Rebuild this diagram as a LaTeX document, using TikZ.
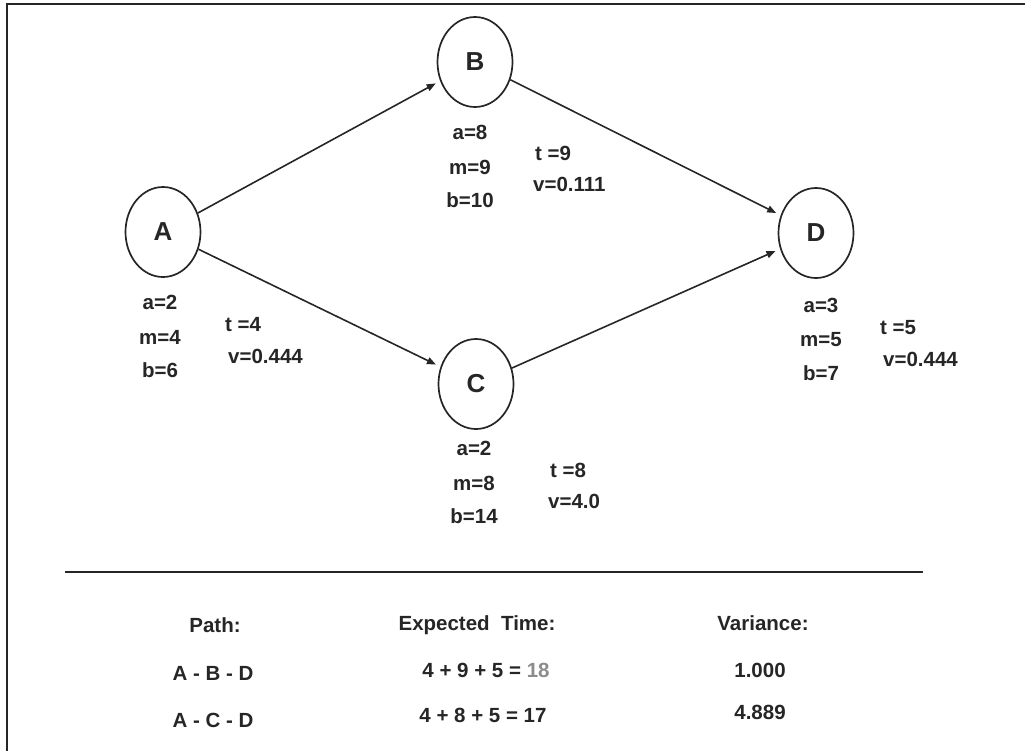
\documentclass[tikz,border=0pt]{standalone}
\usepackage{fontspec}
\setmainfont{Liberation Sans}
\usetikzlibrary{shapes.geometric,arrows.meta}

\begin{document}
\begin{tikzpicture}[
      x=1pt, y=-1pt,
      font=\fontsize{20.5}{24}\selectfont\bfseries,
      every node/.style={text=black!85, inner sep=0pt},
      event/.style={ellipse, draw=black!85, line width=1.7pt, minimum width=75pt, minimum height=90pt,
                    font=\fontsize{26}{30}\selectfont\bfseries},
      activity/.style={draw=black!85, line width=1.6pt, shorten >=5pt, -{Triangle[length=9pt,width=7pt]}},
  ]

  \useasboundingbox (0,0) rectangle (1025,750);

  % Rahmen (nur links und oben sichtbar)
  \draw[black!85, line width=2pt] (7,752) -- (7,4) -- (1027,4);

  % Ereignisse
  \foreach \name/\x/\y in {A/163/232, B/475/62, C/476/384, D/816/233} {
      \node[event] (\name) at (\x,\y) {\name};
  }

  % Vorgaenge
  \draw[activity] (A) -- (B);
  \draw[activity] (A) -- (C);
  \draw[activity] (B) -- (D);
  \draw[activity] (C) -- (D);

  % Schaetzwerte a, m, b
  \foreach \name/\x/\y/\a/\m/\b in {A/160/302/2/4/6, B/470/132/8/9/10, C/474/448/2/8/14, D/821/305/3/5/7} {
      \node (\name-a) at (\x,\y) {a=\a};
      \node (\name-m) at (\x,\y+35) {m=\m};
      \node (\name-b) at (\x,\y+68) {b=\b};
  }

  % Erwartungswert t und Varianz v
  \foreach \name/\x/\y/\vx/\t/\v in {A/225/325/228/4/0.444, B/535/153/533/9/0.111, C/550/470/548/8/4.0, D/880/328/883/5/0.444} {
      \node[anchor=west] (\name-t) at (\x,\y) {t =\t};
      \node[anchor=west] (\name-v) at (\vx,\y+31) {v=\v};
  }

  % Trennlinie
  \coordinate (rule-l) at (65,572);
  \coordinate (rule-r) at (923,572);
  \draw[black!85, line width=2.4pt] (rule-l) -- (rule-r);

  % Tabelle
  \node (h-path) at (215,625) {Path:};
  \node (h-time) at (477,625) {Expected\ \ Time:};
  \node (h-var)  at (763,623) {Variance:};

  \node (p1) at (213,673) {A - B - D};
  \node (t1) at (486,670) {4 + 9 + 5 = \textcolor{black!45}{18}};
  \node (v1) at (760,670) {1.000};

  \node (p2) at (213,720) {A - C - D};
  \node (t2) at (483,715) {4 + 8 + 5 = 17};
  \node (v2) at (760,712) {4.889};

\end{tikzpicture}
\end{document}
